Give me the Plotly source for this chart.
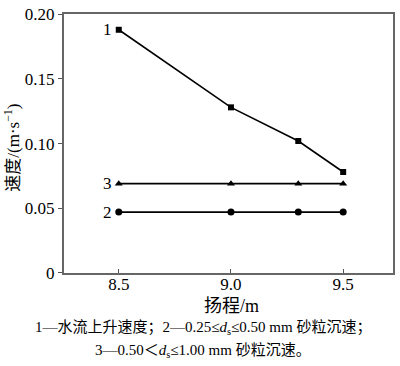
import plotly.graph_objects as go

head = [8.5, 9.0, 9.3, 9.5]
v1 = [0.188, 0.128, 0.102, 0.078]
v2 = [0.047, 0.047, 0.047, 0.047]
v3 = [0.069, 0.069, 0.069, 0.069]
x_ticks = [8.5, 9.0, 9.5]
x_ticklabels = ["8.5", "9.0", "9.5"]
y_ticks = [0, 0.05, 0.10, 0.15, 0.20]
y_ticklabels = ["0", "0.05", "0.10", "0.15", "0.20"]

FONT = "Liberation Serif, Times New Roman, Noto Sans CJK SC, serif"

fig = go.Figure()
series = [(v1, "square", 6, "1"), (v2, "circle", 7, "2"), (v3, "triangle-up", 7, "3")]
for vals, sym, size, name in series:
    fig.add_trace(go.Scatter(x=head, y=vals, mode="lines+markers",
                             line=dict(color="black", width=1.6),
                             marker=dict(symbol=sym, size=size, color="black"),
                             showlegend=False))
    fig.add_annotation(x=head[0], y=vals[0], text=name, showarrow=False,
                       xanchor="right", yanchor="middle", xshift=-5,
                       font=dict(family=FONT, size=17, color="black"))

fig.update_layout(
    width=400, height=366,
    margin=dict(l=64, r=6, t=5, b=93),
    plot_bgcolor="white", paper_bgcolor="white",
    font=dict(family=FONT, size=17, color="black"),
    xaxis=dict(range=[8.256, 9.722], tickvals=x_ticks, ticktext=x_ticklabels,
               ticks="inside", ticklen=4, tickcolor="#555", showgrid=False, zeroline=False,
               showline=True, linecolor="#666", linewidth=2, mirror=True,
               ticklabelstandoff=-5,
               tickfont=dict(family=FONT, size=17)),
    yaxis=dict(range=[-0.0001, 0.2002], tickvals=y_ticks, ticktext=y_ticklabels,
               ticks="outside", ticklen=4, tickcolor="#555", showgrid=False, zeroline=False,
               showline=True, linecolor="#666", linewidth=2, mirror=True,
               ticklabeloverflow="allow",
               tickfont=dict(family=FONT, size=17)),
)

fig.add_annotation(xref="paper", yref="paper", x=0.508, y=-0.128, text="扬程/m",
                   showarrow=False, xanchor="center", yanchor="middle",
                   font=dict(family=FONT, size=18))
fig.add_annotation(xref="paper", yref="paper", x=-0.157, y=0.485,
                   text="速度/(m·s<sup>−1</sup>)", textangle=-90,
                   showarrow=False, xanchor="center", yanchor="middle",
                   font=dict(family=FONT, size=17))
fig.add_annotation(xref="paper", yref="paper", x=0.424, y=-0.212, text=
                   "1—水流上升速度；2—0.25≤<i>d</i><sub>s</sub>≤0.50 mm 砂粒沉速；",
                   showarrow=False, xanchor="center", yanchor="middle",
                   font=dict(family=FONT, size=15))
fig.add_annotation(xref="paper", yref="paper", x=0.422, y=-0.302, text=
                   "3—0.50＜<i>d</i><sub>s</sub>≤1.00 mm 砂粒沉速。",
                   showarrow=False, xanchor="center", yanchor="middle",
                   font=dict(family=FONT, size=15))

fig.write_html("out.html", config={"displayModeBar": False},
               post_script="document.body.style.margin='0';document.body.style.overflow='hidden';")
